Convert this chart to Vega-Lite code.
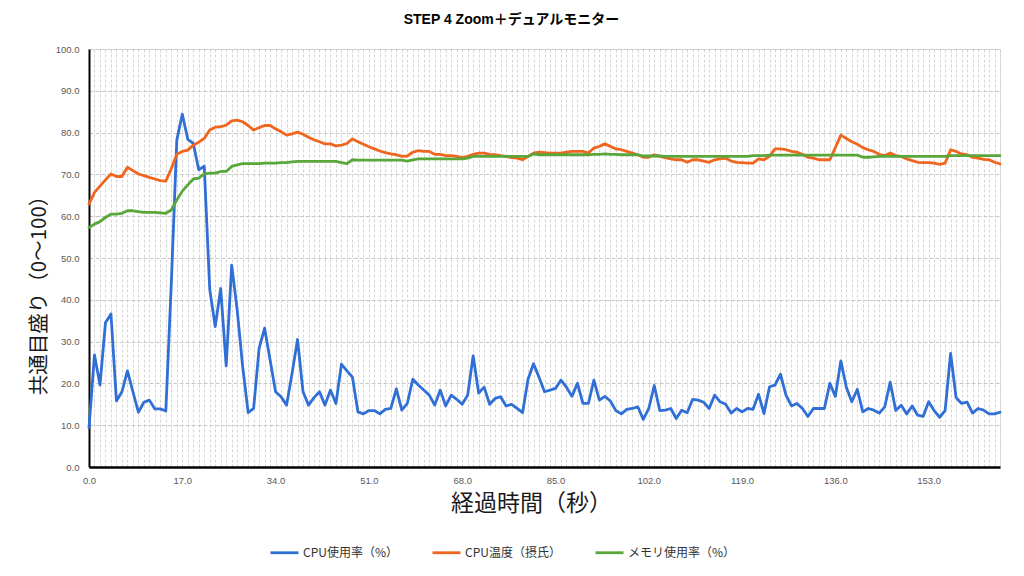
{
  "$schema": "https://vega.github.io/schema/vega-lite/v6.json",
  "width": 911,
  "height": 418,
  "autosize": {"type": "none"},
  "padding": {"left": 89, "top": 49, "right": 24, "bottom": 109},
  "background": "white",
  "title": {
    "text": "STEP 4 Zoom＋デュアルモニター",
    "font": "Liberation Sans, Noto Sans CJK JP",
    "fontSize": 14,
    "fontWeight": "bold",
    "color": "#000000",
    "anchor": "middle",
    "dx": -33,
    "offset": 17
  },
  "data": {
    "values": [
      {"t":0,"cpu":9.4,"temp":62.9,"mem":57.3},
      {"t":1,"cpu":26.8,"temp":65.7,"mem":58.1},
      {"t":2,"cpu":19.6,"temp":67.2,"mem":58.7},
      {"t":3,"cpu":34.5,"temp":68.7,"mem":59.7},
      {"t":4,"cpu":36.6,"temp":70.1,"mem":60.5},
      {"t":5,"cpu":15.8,"temp":69.5,"mem":60.5},
      {"t":6,"cpu":18.0,"temp":69.5,"mem":60.7},
      {"t":7,"cpu":23.0,"temp":71.7,"mem":61.3},
      {"t":8,"cpu":18.0,"temp":70.9,"mem":61.3},
      {"t":9,"cpu":13.1,"temp":70.1,"mem":61.1},
      {"t":10,"cpu":15.5,"temp":69.7,"mem":60.9},
      {"t":11,"cpu":16.0,"temp":69.3,"mem":60.9},
      {"t":12,"cpu":13.9,"temp":68.9,"mem":60.9},
      {"t":13,"cpu":13.9,"temp":68.5,"mem":60.8},
      {"t":14,"cpu":13.4,"temp":68.4,"mem":60.7},
      {"t":15,"cpu":44.0,"temp":71.4,"mem":61.5},
      {"t":16,"cpu":78.2,"temp":74.8,"mem":63.9},
      {"t":17,"cpu":84.4,"temp":75.5,"mem":66.0},
      {"t":18,"cpu":78.4,"temp":75.8,"mem":67.5},
      {"t":19,"cpu":77.4,"temp":77.0,"mem":68.9},
      {"t":20,"cpu":71.1,"temp":77.7,"mem":69.1},
      {"t":21,"cpu":72.0,"temp":78.6,"mem":70.1},
      {"t":22,"cpu":42.5,"temp":80.6,"mem":70.3},
      {"t":23,"cpu":33.6,"temp":81.3,"mem":70.3},
      {"t":24,"cpu":42.7,"temp":81.4,"mem":70.7},
      {"t":25,"cpu":24.2,"temp":81.8,"mem":70.7},
      {"t":26,"cpu":48.3,"temp":82.8,"mem":71.9},
      {"t":27,"cpu":37.6,"temp":83.0,"mem":72.3},
      {"t":28,"cpu":24.0,"temp":82.6,"mem":72.6},
      {"t":29,"cpu":13.0,"temp":81.7,"mem":72.6},
      {"t":30,"cpu":14.0,"temp":80.6,"mem":72.6},
      {"t":31,"cpu":28.4,"temp":81.2,"mem":72.6},
      {"t":32,"cpu":33.2,"temp":81.7,"mem":72.7},
      {"t":33,"cpu":25.6,"temp":81.7,"mem":72.7},
      {"t":34,"cpu":18.0,"temp":80.9,"mem":72.7},
      {"t":35,"cpu":16.8,"temp":80.2,"mem":72.8},
      {"t":36,"cpu":14.8,"temp":79.4,"mem":72.8},
      {"t":37,"cpu":22.4,"temp":79.7,"mem":73.0},
      {"t":38,"cpu":30.5,"temp":80.1,"mem":73.1},
      {"t":39,"cpu":18.0,"temp":79.6,"mem":73.1},
      {"t":40,"cpu":14.8,"temp":78.9,"mem":73.1},
      {"t":41,"cpu":16.6,"temp":78.3,"mem":73.1},
      {"t":42,"cpu":18.0,"temp":77.8,"mem":73.1},
      {"t":43,"cpu":14.8,"temp":77.3,"mem":73.1},
      {"t":44,"cpu":18.4,"temp":77.3,"mem":73.1},
      {"t":45,"cpu":15.2,"temp":76.8,"mem":73.1},
      {"t":46,"cpu":24.6,"temp":77.0,"mem":72.8},
      {"t":47,"cpu":23.0,"temp":77.4,"mem":72.6},
      {"t":48,"cpu":21.5,"temp":78.5,"mem":73.5},
      {"t":49,"cpu":13.2,"temp":77.8,"mem":73.4},
      {"t":50,"cpu":12.7,"temp":77.2,"mem":73.4},
      {"t":51,"cpu":13.5,"temp":76.6,"mem":73.4},
      {"t":52,"cpu":13.5,"temp":76.1,"mem":73.4},
      {"t":53,"cpu":12.7,"temp":75.6,"mem":73.4},
      {"t":54,"cpu":13.8,"temp":75.2,"mem":73.4},
      {"t":55,"cpu":14.0,"temp":74.9,"mem":73.4},
      {"t":56,"cpu":18.7,"temp":74.7,"mem":73.4},
      {"t":57,"cpu":13.6,"temp":74.3,"mem":73.4},
      {"t":58,"cpu":15.2,"temp":74.4,"mem":73.2},
      {"t":59,"cpu":21.0,"temp":75.3,"mem":73.5},
      {"t":60,"cpu":19.6,"temp":75.7,"mem":73.7},
      {"t":61,"cpu":18.4,"temp":75.5,"mem":73.7},
      {"t":62,"cpu":17.2,"temp":75.5,"mem":73.7},
      {"t":63,"cpu":14.8,"temp":74.8,"mem":73.7},
      {"t":64,"cpu":18.4,"temp":74.8,"mem":73.7},
      {"t":65,"cpu":14.6,"temp":74.5,"mem":73.7},
      {"t":66,"cpu":17.2,"temp":74.5,"mem":73.7},
      {"t":67,"cpu":16.2,"temp":74.3,"mem":73.7},
      {"t":68,"cpu":15.0,"temp":74.0,"mem":73.7},
      {"t":69,"cpu":17.2,"temp":74.3,"mem":73.9},
      {"t":70,"cpu":26.6,"temp":74.8,"mem":74.3},
      {"t":71,"cpu":17.7,"temp":75.1,"mem":74.3},
      {"t":72,"cpu":19.1,"temp":75.1,"mem":74.3},
      {"t":73,"cpu":15.0,"temp":74.8,"mem":74.3},
      {"t":74,"cpu":16.4,"temp":74.7,"mem":74.3},
      {"t":75,"cpu":16.8,"temp":74.5,"mem":74.3},
      {"t":76,"cpu":14.6,"temp":74.3,"mem":74.3},
      {"t":77,"cpu":15.0,"temp":74.0,"mem":74.3},
      {"t":78,"cpu":14.0,"temp":73.9,"mem":74.3},
      {"t":79,"cpu":13.0,"temp":73.5,"mem":74.3},
      {"t":80,"cpu":21.0,"temp":74.3,"mem":74.3},
      {"t":81,"cpu":24.7,"temp":75.1,"mem":74.9},
      {"t":82,"cpu":21.5,"temp":75.3,"mem":74.7},
      {"t":83,"cpu":18.0,"temp":75.2,"mem":74.7},
      {"t":84,"cpu":18.4,"temp":75.1,"mem":74.7},
      {"t":85,"cpu":18.8,"temp":75.1,"mem":74.7},
      {"t":86,"cpu":20.8,"temp":75.1,"mem":74.7},
      {"t":87,"cpu":19.1,"temp":75.3,"mem":74.7},
      {"t":88,"cpu":16.9,"temp":75.5,"mem":74.7},
      {"t":89,"cpu":20.0,"temp":75.5,"mem":74.7},
      {"t":90,"cpu":15.2,"temp":75.5,"mem":74.7},
      {"t":91,"cpu":15.2,"temp":75.1,"mem":74.7},
      {"t":92,"cpu":20.8,"temp":76.3,"mem":74.8},
      {"t":93,"cpu":16.0,"temp":76.7,"mem":74.8},
      {"t":94,"cpu":16.9,"temp":77.3,"mem":74.9},
      {"t":95,"cpu":15.8,"temp":76.7,"mem":74.8},
      {"t":96,"cpu":13.5,"temp":76.1,"mem":74.8},
      {"t":97,"cpu":12.7,"temp":75.9,"mem":74.7},
      {"t":98,"cpu":13.8,"temp":75.5,"mem":74.7},
      {"t":99,"cpu":14.0,"temp":75.1,"mem":74.7},
      {"t":100,"cpu":14.4,"temp":74.7,"mem":74.7},
      {"t":101,"cpu":11.4,"temp":74.1,"mem":74.4},
      {"t":102,"cpu":14.0,"temp":74.1,"mem":74.4},
      {"t":103,"cpu":19.5,"temp":74.7,"mem":74.4},
      {"t":104,"cpu":13.5,"temp":74.3,"mem":74.4},
      {"t":105,"cpu":13.6,"temp":74.0,"mem":74.3},
      {"t":106,"cpu":14.0,"temp":73.7,"mem":74.3},
      {"t":107,"cpu":11.6,"temp":73.5,"mem":74.3},
      {"t":108,"cpu":13.6,"temp":73.5,"mem":74.3},
      {"t":109,"cpu":13.0,"temp":72.9,"mem":74.3},
      {"t":110,"cpu":16.2,"temp":73.5,"mem":74.3},
      {"t":111,"cpu":16.0,"temp":73.5,"mem":74.3},
      {"t":112,"cpu":15.5,"temp":73.2,"mem":74.3},
      {"t":113,"cpu":14.0,"temp":72.9,"mem":74.3},
      {"t":114,"cpu":17.2,"temp":73.5,"mem":74.3},
      {"t":115,"cpu":15.6,"temp":73.7,"mem":74.3},
      {"t":116,"cpu":15.0,"temp":73.9,"mem":74.3},
      {"t":117,"cpu":12.9,"temp":73.2,"mem":74.3},
      {"t":118,"cpu":14.0,"temp":72.9,"mem":74.3},
      {"t":119,"cpu":13.2,"temp":72.8,"mem":74.3},
      {"t":120,"cpu":14.0,"temp":72.7,"mem":74.3},
      {"t":121,"cpu":13.8,"temp":72.7,"mem":74.5},
      {"t":122,"cpu":17.4,"temp":73.7,"mem":74.5},
      {"t":123,"cpu":12.8,"temp":73.5,"mem":74.5},
      {"t":124,"cpu":19.2,"temp":74.3,"mem":74.6},
      {"t":125,"cpu":19.6,"temp":76.1,"mem":74.6},
      {"t":126,"cpu":22.2,"temp":76.1,"mem":74.6},
      {"t":127,"cpu":17.2,"temp":75.9,"mem":74.6},
      {"t":128,"cpu":14.6,"temp":75.5,"mem":74.6},
      {"t":129,"cpu":15.2,"temp":75.3,"mem":74.6},
      {"t":130,"cpu":14.0,"temp":74.8,"mem":74.6},
      {"t":131,"cpu":12.1,"temp":74.1,"mem":74.6},
      {"t":132,"cpu":14.0,"temp":73.9,"mem":74.6},
      {"t":133,"cpu":14.0,"temp":73.5,"mem":74.6},
      {"t":134,"cpu":14.0,"temp":73.5,"mem":74.6},
      {"t":135,"cpu":20.0,"temp":73.5,"mem":74.6},
      {"t":136,"cpu":16.9,"temp":76.4,"mem":74.6},
      {"t":137,"cpu":25.4,"temp":79.4,"mem":74.6},
      {"t":138,"cpu":19.1,"temp":78.6,"mem":74.6},
      {"t":139,"cpu":15.6,"temp":77.8,"mem":74.6},
      {"t":140,"cpu":18.6,"temp":77.2,"mem":74.6},
      {"t":141,"cpu":13.2,"temp":76.4,"mem":74.1},
      {"t":142,"cpu":14.0,"temp":75.9,"mem":74.1},
      {"t":143,"cpu":13.6,"temp":75.5,"mem":74.2},
      {"t":144,"cpu":12.9,"temp":74.8,"mem":74.3},
      {"t":145,"cpu":14.4,"temp":74.5,"mem":74.3},
      {"t":146,"cpu":20.3,"temp":75.1,"mem":74.3},
      {"t":147,"cpu":13.5,"temp":74.5,"mem":74.3},
      {"t":148,"cpu":14.8,"temp":74.3,"mem":74.3},
      {"t":149,"cpu":12.7,"temp":73.7,"mem":74.3},
      {"t":150,"cpu":14.6,"temp":73.3,"mem":74.3},
      {"t":151,"cpu":12.4,"temp":72.9,"mem":74.3},
      {"t":152,"cpu":12.1,"temp":72.8,"mem":74.3},
      {"t":153,"cpu":15.6,"temp":72.8,"mem":74.3},
      {"t":154,"cpu":13.5,"temp":72.7,"mem":74.3},
      {"t":155,"cpu":11.9,"temp":72.4,"mem":74.3},
      {"t":156,"cpu":13.5,"temp":72.7,"mem":74.3},
      {"t":157,"cpu":27.2,"temp":75.9,"mem":74.5},
      {"t":158,"cpu":16.6,"temp":75.5,"mem":74.5},
      {"t":159,"cpu":15.2,"temp":74.9,"mem":74.5},
      {"t":160,"cpu":15.5,"temp":74.7,"mem":74.5},
      {"t":161,"cpu":12.9,"temp":74.1,"mem":74.5},
      {"t":162,"cpu":14.0,"temp":73.9,"mem":74.5},
      {"t":163,"cpu":13.6,"temp":73.6,"mem":74.5},
      {"t":164,"cpu":12.7,"temp":73.5,"mem":74.5},
      {"t":165,"cpu":12.7,"temp":72.9,"mem":74.5},
      {"t":166,"cpu":13.1,"temp":72.5,"mem":74.5}
    ]
  },
  "transform": [
    {"fold": ["cpu", "temp", "mem"], "as": ["series", "value"]}
  ],
  "mark": {"type": "line", "strokeWidth": 2.8, "strokeCap": "round", "strokeJoin": "round"},
  "encoding": {
    "x": {
      "field": "t",
      "type": "quantitative",
      "scale": {"domain": [0, 166], "nice": false, "zero": false},
      "axis": {
        "values": [0,1,2,3,4,5,6,7,8,9,10,11,12,13,14,15,16,17,18,19,20,21,22,23,24,25,26,27,28,29,30,31,32,33,34,35,36,37,38,39,40,41,42,43,44,45,46,47,48,49,50,51,52,53,54,55,56,57,58,59,60,61,62,63,64,65,66,67,68,69,70,71,72,73,74,75,76,77,78,79,80,81,82,83,84,85,86,87,88,89,90,91,92,93,94,95,96,97,98,99,100,101,102,103,104,105,106,107,108,109,110,111,112,113,114,115,116,117,118,119,120,121,122,123,124,125,126,127,128,129,130,131,132,133,134,135,136,137,138,139,140,141,142,143,144,145,146,147,148,149,150,151,152,153,154,155,156,157,158,159,160,161,162,163,164,165,166],
        "labelExpr": "datum.value % 17 === 0 ? format(datum.value, '.1f') : ''",
        "labelOverlap": false,
        "labelFlush": false,
        "ticks": false,
        "grid": true,
        "gridColor": "#d4d4d4",
        "gridDash": [3, 2],
        "gridWidth": 1,
        "domainColor": "#000000",
        "domainWidth": 2.5,
        "labelFont": "Liberation Sans",
        "labelFontSize": 9.5,
        "labelColor": "#595959",
        "labelPadding": 8,
        "title": "経過時間（秒）",
        "titleFont": "Noto Sans CJK JP",
        "titleFontSize": 23,
        "titleFontWeight": "normal",
        "titleColor": "#1a1a1a",
        "titlePadding": 8,
        "titleX": 442
      }
    },
    "y": {
      "field": "value",
      "type": "quantitative",
      "scale": {"domain": [0, 100], "nice": false},
      "axis": {
        "values": [0, 10, 20, 30, 40, 50, 60, 70, 80, 90, 100],
        "format": ".1f",
        "ticks": false,
        "grid": true,
        "gridColor": "#c8c8c8",
        "gridDash": [4, 2],
        "gridWidth": 1,
        "domainColor": "#000000",
        "domainWidth": 2,
        "labelFont": "Liberation Sans",
        "labelFontSize": 9.5,
        "labelColor": "#595959",
        "labelPadding": 10,
        "title": "共通目盛り（0〜100）",
        "titleFont": "Noto Sans CJK JP",
        "titleFontSize": 20.5,
        "titleFontWeight": "normal",
        "titleColor": "#1a1a1a",
        "titlePadding": 6,
        "titleY": 241
      }
    },
    "color": {
      "field": "series",
      "type": "nominal",
      "scale": {"domain": ["cpu", "temp", "mem"], "range": ["#2f6fd6", "#f0661e", "#59a63a"]},
      "legend": {
        "orient": "none",
        "legendX": 180,
        "legendY": 488,
        "direction": "horizontal",
        "title": null,
        "symbolType": "stroke",
        "symbolSize": 784,
        "symbolStrokeWidth": 2.8,
        "labelExpr": "{'cpu': 'CPU使用率（%）', 'temp': 'CPU温度（摂氏）', 'mem': 'メモリ使用率（%）'}[datum.label]",
        "labelFont": "Noto Sans CJK JP",
        "labelFontSize": 12,
        "labelColor": "#333333",
        "labelOffset": 3,
        "columnPadding": 28
      }
    }
  }
}
